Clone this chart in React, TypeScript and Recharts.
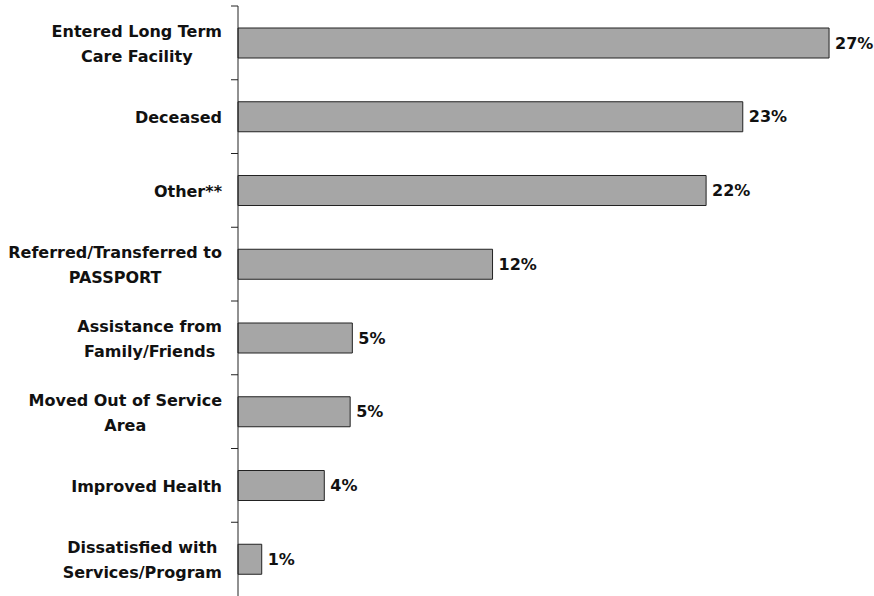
import React from "react";
import { BarChart, Bar, XAxis, YAxis, LabelList } from "recharts";

const categories = [
  "Entered Long Term\nCare Facility",
  "Deceased",
  "Other**",
  "Referred/Transferred to\nPASSPORT",
  "Assistance from\nFamily/Friends",
  "Moved Out of Service\nArea",
  "Improved Health",
  "Dissatisfied with\nServices/Program",
];

const percents = [27.4, 23.4, 21.7, 11.8, 5.3, 5.2, 4.0, 1.1];

const data = categories.map((name, i) => ({ name, value: percents[i] }));

const WIDTH = 874;
const HEIGHT = 596;
const TOP = 6;
const BAND = (HEIGHT - TOP) / categories.length;
const FONT = "'DejaVu Sans', sans-serif";
const LABEL_FONT = `bold 16px ${FONT}`;

let ctx: CanvasRenderingContext2D | null = null;
function textWidth(s: string) {
  if (!ctx) ctx = document.createElement("canvas").getContext("2d");
  if (!ctx) return s.length * 9;
  ctx.font = LABEL_FONT;
  return ctx.measureText(s).width;
}

function CategoryTick(props: any) {
  const { y, payload } = props;
  const right = 222;
  const lines = String(payload.value).split("\n");
  const maxW = Math.max(...lines.map(textWidth));
  const cx = right - maxW / 2;
  const lineH = 25;
  const start = y + 1 - ((lines.length - 1) * lineH) / 2;
  return (
    <g>
      <line x1={231} x2={238} y1={y - BAND / 2} y2={y - BAND / 2} stroke="#222" strokeWidth={1} />
      <text
        x={cx}
        textAnchor="middle"
        fontFamily={FONT}
        fontWeight="bold"
        fontSize={16}
        fill="#111"
      >
        {lines.map((l, i) => (
          <tspan key={i} x={cx} y={start + i * lineH} dy="0.35em">
            {l}
          </tspan>
        ))}
      </text>
    </g>
  );
}

export default function App() {
  return (
    <div style={{ position: "absolute", left: 0, top: 0, width: WIDTH, height: HEIGHT }}>
      <BarChart
        width={WIDTH}
        height={HEIGHT}
        data={data}
        layout="vertical"
        margin={{ top: TOP, right: 32, bottom: 0, left: 0 }}
        barSize={30}
      >
        <XAxis type="number" domain={[0, 28]} hide />
        <YAxis
          type="category"
          dataKey="name"
          width={238}
          axisLine={{ stroke: "#222" }}
          tickLine={false}
          tick={<CategoryTick />}
          interval={0}
        />
        <Bar dataKey="value" fill="#A6A6A6" stroke="#222" strokeWidth={1} isAnimationActive={false}>
          <LabelList
            dataKey="value"
            position="right"
            offset={6}
            formatter={(v: any) => `${Math.round(Number(v))}%`}
            style={{ fontFamily: FONT, fontWeight: "bold", fontSize: 16, fill: "#111" }}
          />
        </Bar>
      </BarChart>
    </div>
  );
}
